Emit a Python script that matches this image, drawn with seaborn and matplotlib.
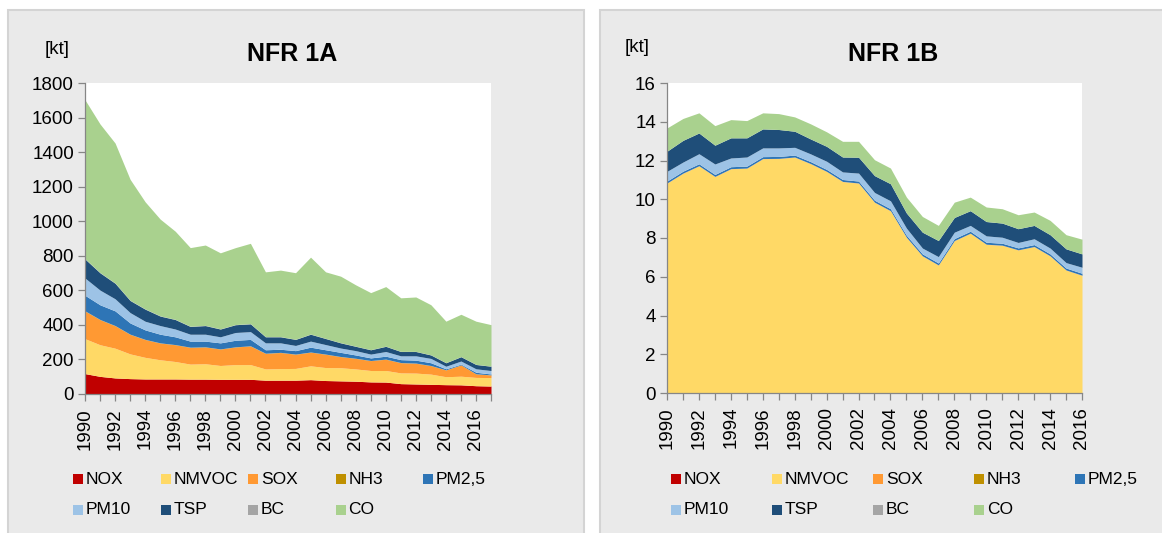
import numpy as np
import pandas as pd
import seaborn as sns
import matplotlib.pyplot as plt
from matplotlib.patches import Rectangle

# === data (kt) ===
pollutants = ["NOX", "NMVOC", "SOX", "NH3", "PM2,5", "PM10", "TSP", "BC", "CO"]
colors = ["#c00000", "#ffd966", "#ff9933", "#bf9000", "#2e75b6",
          "#9dc3e6", "#1f4e79", "#a5a5a5", "#a9d18e"]

years_1a = list(range(1990, 2018))
nox_1a = [118, 102, 93, 89, 87, 87, 87, 86, 86, 85, 85, 85, 80, 80,
          80, 83, 78, 76, 74, 70, 69, 60, 58, 56, 54, 53, 48, 46]
nmvoc_1a = [202, 183, 172, 143, 125, 111, 101, 87, 89, 80, 85, 85, 65, 67,
            68, 80, 75, 76, 71, 66, 67, 62, 63, 59, 46, 50, 48, 49]
sox_1a = [160, 145, 130, 113, 103, 97, 97, 97, 97, 95, 102, 108, 90, 93,
          82, 79, 77, 64, 61, 57, 65, 59, 57, 49, 39, 65, 20, 15]
nh3_1a = [1.2, 1.2, 1.1, 1.1, 1.0, 1.0, 1.0, 1.0, 1.0, 1.0, 1.0, 1.0, 1.0, 1.0,
          1.0, 1.0, 1.0, 1.0, 0.9, 0.9, 0.9, 0.9, 0.9, 0.9, 0.8, 0.8, 0.8, 0.8]
pm25_1a = [90, 85, 85, 65, 55, 50, 45, 35, 33, 35, 38, 37, 20, 18,
           20, 28, 25, 24, 19, 15, 17, 17, 17, 16, 6, 4, 9, 5]
pm10_1a = [100, 85, 70, 60, 50, 50, 45, 40, 40, 35, 45, 45, 40, 37,
           30, 35, 30, 25, 25, 22, 27, 22, 25, 25, 15, 18, 20, 20]
tsp_1a = [110, 100, 90, 70, 70, 55, 55, 45, 50, 45, 45, 45, 35, 35,
          35, 40, 35, 30, 25, 25, 30, 25, 25, 20, 20, 25, 25, 25]
bc_1a = [1.5, 1.5, 1.4, 1.4, 1.3, 1.3, 1.2, 1.2, 1.2, 1.1, 1.1, 1.1, 1.0, 1.0,
         1.0, 1.0, 0.9, 0.9, 0.9, 0.8, 0.8, 0.8, 0.7, 0.7, 0.7, 0.6, 0.6, 0.6]
co_1a = [920, 860, 810, 700, 620, 560, 510, 455, 465, 440, 445, 465, 375, 385,
         385, 445, 385, 385, 355, 330, 345, 310, 315, 290, 240, 245, 250, 240]

years_1b = list(range(1990, 2017))
nox_1b = [0.02, 0.02, 0.02, 0.02, 0.02, 0.02, 0.02, 0.02, 0.02, 0.02, 0.02, 0.02, 0.02, 0.02,
          0.02, 0.02, 0.02, 0.02, 0.02, 0.02, 0.02, 0.02, 0.02, 0.02, 0.02, 0.02, 0.02]
nmvoc_1b = [10.81, 11.32, 11.70, 11.15, 11.55, 11.58, 12.07, 12.08, 12.15, 11.81, 11.41, 10.89, 10.81,
            9.82, 9.38, 8.01, 7.05, 6.58, 7.84, 8.22, 7.65, 7.60, 7.36, 7.53, 7.05, 6.32, 6.05]
sox_1b = [0.01, 0.01, 0.01, 0.01, 0.01, 0.01, 0.01, 0.01, 0.01, 0.01, 0.01, 0.01, 0.01, 0.01,
          0.01, 0.01, 0.01, 0.01, 0.01, 0.01, 0.01, 0.01, 0.01, 0.01, 0.01, 0.01, 0.01]
nh3_1b = [0.0] * 27
pm25_1b = [0.10, 0.10, 0.10, 0.10, 0.10, 0.10, 0.10, 0.10, 0.10, 0.10, 0.10, 0.10, 0.10, 0.10,
           0.10, 0.10, 0.10, 0.10, 0.10, 0.10, 0.10, 0.10, 0.10, 0.10, 0.10, 0.10, 0.10]
pm10_1b = [0.50, 0.47, 0.52, 0.54, 0.45, 0.47, 0.45, 0.44, 0.40, 0.40, 0.42, 0.39, 0.41, 0.40,
           0.41, 0.37, 0.30, 0.33, 0.33, 0.30, 0.33, 0.31, 0.28, 0.30, 0.30, 0.28, 0.31]
tsp_1b = [1.04, 1.12, 1.07, 0.97, 1.04, 0.99, 0.98, 0.95, 0.83, 0.77, 0.77, 0.77, 0.82, 0.87,
          0.88, 0.78, 0.82, 0.83, 0.76, 0.76, 0.74, 0.73, 0.71, 0.69, 0.69, 0.71, 0.69]
bc_1b = [0.0] * 27
co_1b = [1.20, 1.13, 1.04, 1.01, 0.94, 0.89, 0.83, 0.82, 0.74, 0.78, 0.75, 0.81, 0.82, 0.82,
         0.81, 0.82, 0.81, 0.78, 0.79, 0.70, 0.75, 0.74, 0.72, 0.69, 0.74, 0.73, 0.76]

df_1a = pd.DataFrame(dict(zip(pollutants, [nox_1a, nmvoc_1a, sox_1a, nh3_1a, pm25_1a,
                                           pm10_1a, tsp_1a, bc_1a, co_1a])), index=years_1a)
df_1b = pd.DataFrame(dict(zip(pollutants, [nox_1b, nmvoc_1b, sox_1b, nh3_1b, pm25_1b,
                                           pm10_1b, tsp_1b, bc_1b, co_1b])), index=years_1b)

# === style ===
sns.set_theme(style="white")
palette = sns.color_palette(colors)
plt.rcParams["font.family"] = ["Liberation Sans", "DejaVu Sans"]
plt.rcParams["text.color"] = "black"
plt.rcParams["xtick.color"] = "black"
plt.rcParams["ytick.color"] = "black"

W, H = 1162, 533
fig = plt.figure(figsize=(W / 100, H / 100), dpi=100, facecolor="white")


def px_box(left, top, right, bottom):
    # pixel box -> figure fraction [x, y, w, h]
    return [left / W, (H - bottom) / H, (right - left) / W, (bottom - top) / H]


# grey panel backgrounds (behind the axes)
for (l, r) in [(8, 584), (600, 1175)]:
    x, y, w, h = px_box(l, 10, r, 545)
    fig.patches.append(Rectangle((x, y), w, h, transform=fig.transFigure,
                                 facecolor="#eaeaea", edgecolor="#d4d4d4",
                                 linewidth=1.5, zorder=-5))

panels = [
    (df_1a, "NFR 1A", px_box(85, 83, 491, 394), 1800, 200, (57, 50), 292, 73, 87.5),
    (df_1b, "NFR 1B", px_box(667, 83, 1082, 393), 16, 2, (637, 48), 893, 671, 101),
]

for df, title, box, ymax, ystep, kt_xy, title_x, leg_x, leg_dx in panels:
    ax = fig.add_axes(box, zorder=2)
    ax.set_facecolor("white")
    ax.stackplot(df.index, df.T.values, colors=palette, linewidth=0)

    years = list(df.index)
    ax.set_xlim(years[0], years[-1])
    ax.set_ylim(0, ymax)
    ax.set_xticks(years)
    ax.set_xticklabels([str(y) if (y - years[0]) % 2 == 0 else "" for y in years],
                       rotation=90, fontsize=13.5)
    yt = np.arange(0, ymax + ystep / 2, ystep)
    ax.set_yticks(yt)
    ax.set_yticklabels([f"{v:g}" for v in yt], fontsize=13.5)
    ax.tick_params(axis="both", direction="out", length=5, width=0.9,
                   color="#868686", pad=3, bottom=True, left=True)
    ax.tick_params(axis="x", pad=5)
    for side in ["top", "right"]:
        ax.spines[side].set_visible(False)
    for side in ["left", "bottom"]:
        ax.spines[side].set_color("#868686")
        ax.spines[side].set_linewidth(0.9)

    fig.text(kt_xy[0] / W, 1 - kt_xy[1] / H, "[kt]", fontsize=13.5,
             ha="center", va="center")
    fig.text(title_x / W, 1 - 54 / H, title, fontsize=18, fontweight="bold",
             ha="center", va="center")

    # legend: evenly spaced 5 columns, 2 rows
    for i, (name, col) in enumerate(zip(pollutants, palette)):
        cx = leg_x + (i % 5) * leg_dx
        cy = 479 + (i // 5) * 31
        fig.patches.append(Rectangle((cx / W, 1 - (cy + 5) / H), 10 / W, 10 / H,
                                     transform=fig.transFigure, facecolor=col,
                                     edgecolor="none"))
        fig.text((cx + 13) / W, 1 - cy / H, name, fontsize=12.5,
                 ha="left", va="center")

fig.savefig("out.png", dpi=100, facecolor="white")
